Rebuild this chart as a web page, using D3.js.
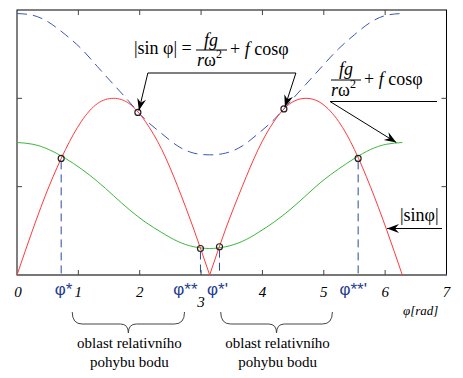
<!DOCTYPE html>
<html>
<head>
<meta charset="utf-8">
<script src="https://cdn.jsdelivr.net/npm/d3@7"></script>
<style>
  body { margin: 0; background: #fff; }
  svg { display: block; }
</style>
</head>
<body>
<svg id="chart"></svg>
<script>
// phi samples (rad), step pi/12
const phi = [0, 0.26, 0.52, 0.79, 1.05, 1.31, 1.57, 1.83, 2.09, 2.36, 2.62, 2.88, 3.14,
             3.40, 3.67, 3.93, 4.19, 4.45, 4.71, 4.97, 5.24, 5.50, 5.76, 6.02, 6.28];
// |sin phi| (red)
const absSin = [0, 0.26, 0.50, 0.71, 0.87, 0.97, 1.00, 0.97, 0.87, 0.71, 0.50, 0.26, 0,
                0.26, 0.50, 0.71, 0.87, 0.97, 1.00, 0.97, 0.87, 0.71, 0.50, 0.26, 0];
// fg/(r w^2) + f cos phi (blue dashed)
const blueRhs = [1.48, 1.47, 1.43, 1.36, 1.28, 1.18, 1.08, 0.98, 0.88, 0.80, 0.73, 0.69, 0.68,
                 0.69, 0.73, 0.80, 0.88, 0.98, 1.08, 1.18, 1.28, 1.36, 1.43, 1.47, 1.48];
// second right-hand side (green)
const greenRhs = [0.75, 0.74, 0.71, 0.66, 0.60, 0.53, 0.45, 0.37, 0.30, 0.24, 0.19, 0.16, 0.15,
                  0.16, 0.19, 0.24, 0.30, 0.37, 0.45, 0.53, 0.60, 0.66, 0.71, 0.74, 0.75];
// intersections (circles)
const crossPhi = [0.72, 1.97, 2.99, 3.30, 4.35, 5.56];
const crossVal = [0.66, 0.92, 0.15, 0.16, 0.94, 0.66];
// boundary angles with dashed drop lines
const limitPhi = [0.72, 2.99, 3.30, 5.56];
const limitVal = [0.66, 0.15, 0.16, 0.66];
const limitLabels = ["φ*", "φ**", "φ*'", "φ**'"];
// axis ticks
const xTicks = [0, 1, 2, 3, 4, 5, 6, 7];
const yTicks = [0.5, 1.0];
// relative motion regions
const regions = [[0.90, 2.73], [3.32, 5.14]];

const W = 463, H = 378;
const svg = d3.select("#chart").attr("width", W).attr("height", H);

const x = d3.scaleLinear().domain([0, 7]).range([17, 446.5]);
const y = d3.scaleLinear().domain([0, 1.5]).range([275, 10]);

const serif = "'Liberation Serif', 'Times New Roman', serif";
const blueLbl = "#1f3d8f";

// frame
svg.append("rect")
  .attr("x", x(0)).attr("y", y(1.5))
  .attr("width", x(7) - x(0)).attr("height", y(0) - y(1.5))
  .attr("fill", "none").attr("stroke", "#000").attr("stroke-width", 1);
svg.append("line")
  .attr("x1", x(0)).attr("x2", x(7)).attr("y1", y(0)).attr("y2", y(0))
  .attr("stroke", "#777").attr("stroke-width", 2);

// inward ticks
const inner = xTicks.filter(d => d > 0 && d < 7);
svg.selectAll(".tb").data(inner).join("line")
  .attr("x1", d => x(d)).attr("x2", d => x(d))
  .attr("y1", y(0)).attr("y2", y(0) - 5)
  .attr("stroke", "#444");
svg.selectAll(".tt").data(inner).join("line")
  .attr("x1", d => x(d)).attr("x2", d => x(d))
  .attr("y1", y(1.5)).attr("y2", y(1.5) + 5)
  .attr("stroke", "#444");
svg.selectAll(".tl").data(yTicks).join("line")
  .attr("x1", x(0)).attr("x2", x(0) + 5)
  .attr("y1", d => y(d)).attr("y2", d => y(d))
  .attr("stroke", "#444");
svg.selectAll(".tr").data(yTicks).join("line")
  .attr("x1", x(7)).attr("x2", x(7) - 5)
  .attr("y1", d => y(d)).attr("y2", d => y(d))
  .attr("stroke", "#444");

// tick labels
svg.selectAll(".xl").data(xTicks).join("text")
  .attr("x", d => x(d) + (d === 0 ? 1 : 0))
  .attr("y", d => d === 3 ? 307 : 297)
  .attr("text-anchor", "middle")
  .style("font-family", serif).style("font-style", "italic").style("font-size", "15px")
  .text(d => d);

svg.append("text")
  .attr("x", 403).attr("y", 315)
  .style("font-family", serif).style("font-style", "italic").style("font-size", "13px")
  .text("φ[rad]");

// curves
const pts = (ys) => phi.map((p, i) => [p, ys[i]]);
const line = d3.line().x(d => x(d[0])).y(d => y(d[1])).curve(d3.curveNatural);

svg.append("path")
  .attr("d", line(pts(blueRhs)))
  .attr("fill", "none").attr("stroke", "#3a56b8").attr("stroke-width", 1)
  .attr("stroke-dasharray", "10,6");

svg.append("path")
  .attr("d", line(pts(greenRhs)))
  .attr("fill", "none").attr("stroke", "#3cb83c").attr("stroke-width", 1);

const redPts = pts(absSin);
[redPts.slice(0, 13), redPts.slice(12)].forEach(seg => {
  svg.append("path")
    .attr("d", line(seg))
    .attr("fill", "none").attr("stroke", "#ff3a3a").attr("stroke-width", 1);
});

// dashed drop lines
svg.selectAll(".drop").data(limitPhi).join("line")
  .attr("x1", d => x(d)).attr("x2", d => x(d))
  .attr("y1", (d, i) => y(limitVal[i]) + 3).attr("y2", y(0))
  .attr("stroke", "#2a4a9a").attr("stroke-width", 1)
  .attr("stroke-dasharray", "8,5");

// intersection circles
svg.selectAll(".cross").data(crossPhi).join("circle")
  .attr("cx", d => x(d)).attr("cy", (d, i) => y(crossVal[i]))
  .attr("r", 3).attr("fill", "none").attr("stroke", "#222").attr("stroke-width", 1.2);

// limit labels
const lblDx = [2.5, -15, -2, -5];
svg.selectAll(".lim").data(limitLabels).join("text")
  .attr("x", (d, i) => x(limitPhi[i]) + lblDx[i])
  .attr("y", 295)
  .attr("text-anchor", "middle")
  .attr("fill", blueLbl)
  .style("font-family", "'Liberation Sans', Arial, sans-serif").style("font-size", "17px")
  .text(d => d);

// braces + region text
regions.forEach(r => {
  const x0 = x(r[0]), x1 = x(r[1]), xm = (x0 + x1) / 2;
  const top = 312, mid = 324, tip = 333;
  const p = d3.path();
  p.moveTo(x0, top);
  p.quadraticCurveTo(x0, mid, x0 + 10, mid);
  p.lineTo(xm - 8, mid);
  p.quadraticCurveTo(xm, mid, xm, tip);
  p.quadraticCurveTo(xm, mid, xm + 8, mid);
  p.lineTo(x1 - 10, mid);
  p.quadraticCurveTo(x1, mid, x1, top);
  svg.append("path").attr("d", p.toString())
    .attr("fill", "none").attr("stroke", "#444").attr("stroke-width", 1);
  const t = svg.append("text")
    .attr("text-anchor", "middle")
    .style("font-family", serif).style("font-size", "15px");
  t.append("tspan").attr("x", xm + 1).attr("y", 348).text("oblast relativního");
  t.append("tspan").attr("x", xm + 1).attr("y", 367).text("pohybu bodu");
});

// arrowhead marker
svg.append("defs").append("marker")
  .attr("id", "arr").attr("viewBox", "-12 -6 14 12")
  .attr("refX", 0).attr("refY", 0)
  .attr("markerWidth", 14).attr("markerHeight", 12)
  .attr("markerUnits", "userSpaceOnUse")
  .attr("orient", "auto")
  .append("path").attr("d", "M0,0 L-12,-4.5 L-8,0 L-12,4.5 Z").attr("fill", "#000");

const leader = (pts, mark) => {
  svg.append("path")
    .attr("d", d3.line()(pts))
    .attr("fill", "none").attr("stroke", "#000").attr("stroke-width", 1)
    .attr("marker-end", mark ? "url(#arr)" : null);
};

// annotation 1: |sin φ| = fg/(rω²) + f cosφ
const a1 = svg.append("g").style("font-family", serif).style("font-size", "18px");
a1.append("text").attr("x", 134).attr("y", 54).text("|sin φ| =");
a1.append("text").attr("x", 211).attr("y", 46).attr("text-anchor", "middle")
  .style("font-style", "italic").text("fg");
a1.append("line").attr("x1", 196).attr("x2", 227).attr("y1", 50).attr("y2", 50)
  .attr("stroke", "#000");
const d1 = a1.append("text").attr("x", 197).attr("y", 66);
d1.append("tspan").style("font-style", "italic").text("r");
d1.append("tspan").text("ω");
d1.append("tspan").attr("dy", -8).style("font-size", "12px").text("2");
const r1 = a1.append("text").attr("x", 230).attr("y", 55);
r1.append("tspan").text("+ ");
r1.append("tspan").style("font-style", "italic").text("f");
r1.append("tspan").text(" cosφ");
leader([[x(1.97) + 10, 73], [x(4.35) + 12, 73]], false);
leader([[x(1.97) + 10, 73], [x(1.97) + 1, y(0.92) - 2]], true);
leader([[x(4.35) + 12, 73], [x(4.35) + 1, y(0.94) - 2]], true);

// annotation 2: fg/(rω²) + f cosφ
const a2 = svg.append("g").style("font-family", serif).style("font-size", "18px");
a2.append("text").attr("x", 346).attr("y", 75).attr("text-anchor", "middle")
  .style("font-style", "italic").text("fg");
a2.append("line").attr("x1", 331).attr("x2", 361).attr("y1", 80).attr("y2", 80)
  .attr("stroke", "#000");
const d2 = a2.append("text").attr("x", 331).attr("y", 96);
d2.append("tspan").style("font-style", "italic").text("r");
d2.append("tspan").text("ω");
d2.append("tspan").attr("dy", -8).style("font-size", "12px").text("2");
const r2 = a2.append("text").attr("x", 364).attr("y", 85);
r2.append("tspan").text("+ ");
r2.append("tspan").style("font-style", "italic").text("f");
r2.append("tspan").text(" cosφ");
leader([[437, 101.5], [330, 101.5], [x(6.28) - 6, y(0.75)]], true);

// annotation 3: |sinφ|
svg.append("text").attr("x", 400).attr("y", 221)
  .style("font-family", serif).style("font-size", "18px")
  .text("|sinφ|");
leader([[442, 228.5], [387, 228.5]], true);
</script>
</body>
</html>
